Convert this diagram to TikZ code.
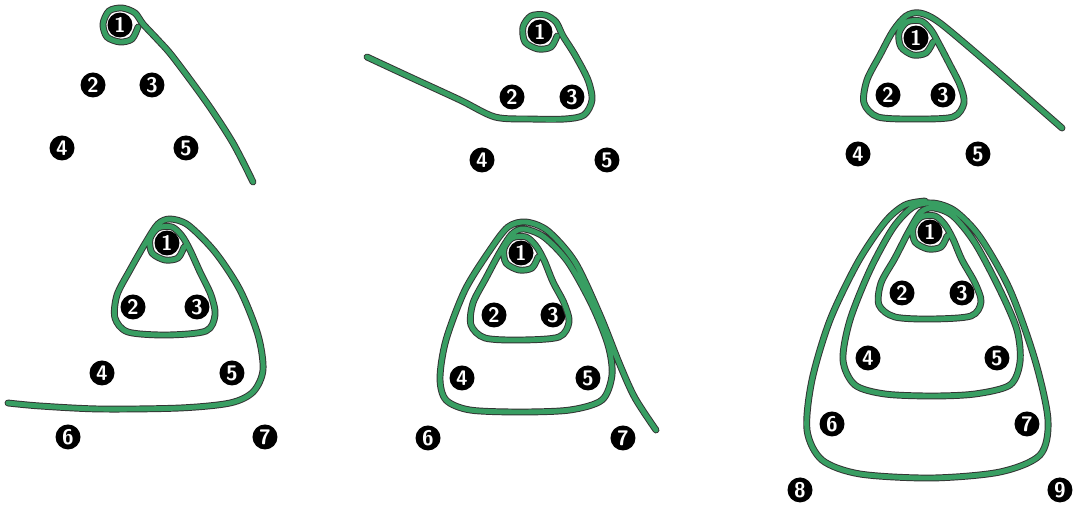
\documentclass[tikz,border=0pt]{standalone}
\usepackage{amsmath,amssymb}
\usepackage{tikz}
\usetikzlibrary{positioning,calc}
\definecolor{ropegreen}{RGB}{56,158,98}
\tikzset{
  dot/.style={circle, fill=black, text=white, inner sep=0pt, minimum size=0.5cm, font=\sffamily\bfseries\large, on grid},
  rope/.style={draw=black!80, double=ropegreen, double distance=2.8pt, line width=0.55pt, line cap=round, line join=round}
}
\begin{document}
\begin{tikzpicture}[x=0.02cm, y=-0.02cm]
\useasboundingbox (0,0) rectangle (1073,510);

\node[dot] (a1) at (120,25) {1};
\node[dot, below left=1.2cm and 0.54cm of a1] (a2) {2};
\node[dot, right=1.18cm of a2] (a3) {3};
\node[dot, below left=1.26cm and 0.62cm of a2] (a4) {4};
\node[dot, right=2.48cm of a4] (a5) {5};
\coordinate (atail) at (253,182);
\draw[rope] plot[smooth] coordinates {(138,27) (132,39) (120,42) (107,37) (103,24) (109,11) (122,8) (135,13) (143,24) (158,40) (173,57) (207,103) (233,143) (atail)};

\node[dot] (b1) at (540,32) {1};
\node[dot, below left=1.3cm and 0.56cm of b1] (b2) {2};
\node[dot, right=1.2cm of b2] (b3) {3};
\node[dot, below left=1.26cm and 0.6cm of b2] (b4) {4};
\node[dot, right=2.5cm of b4] (b5) {5};
\coordinate (btail) at (367,57);
\draw[rope] plot[smooth] coordinates {(557,36) (551,47) (538,49) (525,42) (523,27) (531,16) (545,15) (556,22) (563,36) (575,55) (588,80) (592,100) (584,115) (565,119) (530,119) (495,117) (460,100) (410,77) (btail)};

\node[dot] (c1) at (916,38) {1};
\node[dot, below left=1.14cm and 0.56cm of c1] (c2) {2};
\node[dot, right=1.1cm of c2] (c3) {3};
\node[dot, below left=1.18cm and 0.6cm of c2] (c4) {4};
\node[dot, right=2.4cm of c4] (c5) {5};
\coordinate (ctail) at (1062,128);
\draw[rope] plot[smooth] coordinates {(933,42) (926,53) (913,55) (901,47) (899,33) (907,22) (921,21) (931,30) (939,44) (950,65) (960,85) (964,103) (953,117) (915,119) (878,117) (864,103) (867,80) (880,55) (893,31) (906,16) (920,13) (940,23) (990,65) (1030,100) (ctail)};

\node[dot] (d1) at (167,243) {1};
\node[dot, below left=1.28cm and 0.68cm of d1] (d2) {2};
\node[dot, right=1.28cm of d2] (d3) {3};
\node[dot, below left=1.32cm and 0.62cm of d2] (d4) {4};
\node[dot, right=2.6cm of d4] (d5) {5};
\node[dot, below left=1.28cm and 0.68cm of d4] (d6) {6};
\node[dot, right=3.94cm of d6] (d7) {7};
\coordinate (dtail) at (8,403);
\draw[rope] plot[smooth] coordinates {(184,247) (178,258) (165,260) (152,253) (150,239) (158,228) (172,227) (182,236) (190,250) (200,272) (211,295) (215,315) (206,331) (167,335) (128,332) (115,318) (117,295) (130,270) (146,242) (158,224) (170,219) (188,225) (215,252) (240,290) (258,335) (263,370) (253,392) (230,403) (180,408) (100,409) (40,406) (dtail)};

\node[dot] (e1) at (521,253) {1};
\node[dot, below left=1.24cm and 0.54cm of e1] (e2) {2};
\node[dot, right=1.18cm of e2] (e3) {3};
\node[dot, below left=1.26cm and 0.64cm of e2] (e4) {4};
\node[dot, right=2.52cm of e4] (e5) {5};
\node[dot, below left=1.2cm and 0.68cm of e4] (e6) {6};
\node[dot, right=3.9cm of e6] (e7) {7};
\coordinate (etail) at (656,430);
\draw[rope] plot[smooth] coordinates {(538,257) (532,268) (519,270) (506,263) (504,249) (512,238) (526,237) (536,246) (544,260) (553,282) (564,303) (569,322) (559,337) (521,340) (485,338) (471,325) (473,303) (486,278) (500,252) (512,234) (524,229) (544,237) (568,262) (592,305) (608,345) (612,375) (602,400) (570,410) (520,412) (470,410) (446,400) (440,378) (446,340) (465,290) (490,250) (508,227) (526,222) (548,231) (575,262) (600,315) (620,365) (635,398) (etail)};

\node[dot] (f1) at (930,232) {1};
\node[dot, below left=1.22cm and 0.56cm of f1] (f2) {2};
\node[dot, right=1.2cm of f2] (f3) {3};
\node[dot, below left=1.3cm and 0.68cm of f2] (f4) {4};
\node[dot, right=2.58cm of f4] (f5) {5};
\node[dot, below left=1.32cm and 0.72cm of f4] (f6) {6};
\node[dot, right=3.9cm of f6] (f7) {7};
\node[dot, below left=1.32cm and 0.64cm of f6] (f8) {8};
\node[dot, right=5.2cm of f8] (f9) {9};
\draw[rope] plot[smooth] coordinates {(947,236) (941,247) (928,249) (915,242) (913,228) (921,217) (935,216) (945,225) (953,239) (962,260) (975,283) (981,302) (971,316) (932,319) (895,317) (879,305) (881,283) (895,258) (909,231) (921,212) (934,208) (953,216) (975,243) (1000,290) (1017,330) (1020,362) (1010,385) (975,394) (932,396) (885,394) (855,385) (843,360) (850,320) (870,270) (893,228) (913,207) (933,203) (955,211) (980,237) (1010,290) (1035,360) (1048,420) (1040,455) (1000,472) (932,478) (860,474) (822,460) (807,430) (812,380) (830,320) (858,262) (885,222) (905,205) (925,201)};
\end{tikzpicture}
\end{document}
